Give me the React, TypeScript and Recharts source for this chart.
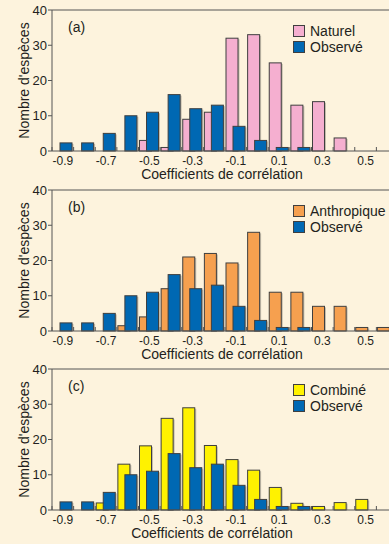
import React from "react";
import { BarChart, Bar, XAxis, YAxis, Legend, ReferenceLine } from "recharts";

const BG = "#fdf3dd";
const AXIS = "#555555";
const EDGE = "#3f3f3f";
const TEXT = "#231f20";
const BLUE = "#0068b3";
const PINK = "#f5afd0";
const ORANGE = "#f6a04f";
const YELLOW = "#fff200";
const FONT = "'Liberation Sans', Arial, sans-serif";

// classes de coefficients de corrélation
const bins = ["-0.9", "-0.8", "-0.7", "-0.6", "-0.5", "-0.4", "-0.3", "-0.2", "-0.1", "0", "0.1", "0.2", "0.3", "0.4", "0.5", "0.6"];
const observe = [2.3, 2.3, 5, 10, 11, 16, 12, 13, 7, 3, 1, 1, 0, 0, 0, 0];
const naturel = [0, 0, 0, 0, 3, 1, 9, 11, 32, 33, 25, 13, 14, 3.7, 0, 0];
const anthropique = [0, 0, 0, 1.5, 4, 12, 21, 22, 19.3, 28, 11, 11, 7, 7, 1, 1];
const combine = [0, 0, 2, 13, 18.2, 26, 29, 18.3, 14.3, 11.3, 6.4, 1.9, 1, 2.1, 3, 0];
const yTicks = [0, 10, 20, 30, 40];

const CHART_W = 398;
const LEFT = 52;
const BAND = (CHART_W - LEFT) / bins.length;

function BinTick(props: any) {
  const { x, y, payload, index } = props;
  const bx = x - BAND / 2;
  return (
    <g>
      <line x1={bx} x2={bx} y1={y} y2={y - 4} stroke={AXIS} />
      {index % 2 === 0 && (
        <text x={x} y={y + 14} textAnchor="middle" fontSize={12} fill={TEXT} fontFamily={FONT}>
          {payload.value}
        </text>
      )}
    </g>
  );
}

function ShadowBar(props: any) {
  const { x, y, width, height, fill } = props;
  if (!height || height <= 0) return null;
  return (
    <g>
      <rect x={x + 1.5} y={y + 1} width={width} height={Math.max(height - 1, 0)} fill="#000" opacity={0.22} />
      <rect x={x} y={y} width={width} height={height} fill={fill} stroke={EDGE} strokeWidth={1} />
    </g>
  );
}

function LegendBox(props: any) {
  const { payload } = props;
  return (
    <div style={{ fontFamily: FONT, fontSize: 14, color: TEXT }}>
      {(payload || []).map((p: any) => (
        <div key={p.value} style={{ display: "flex", alignItems: "center", height: 16, whiteSpace: "nowrap" }}>
          <span
            style={{
              display: "inline-block",
              width: 10,
              height: 10,
              background: p.color,
              border: `1px solid ${EDGE}`,
              marginRight: 5,
            }}
          />
          {p.value}
        </div>
      ))}
    </div>
  );
}

function Panel({ top, height, tag, name, color, values, labelDx }: any) {
  const data = bins.map((b, i) => ({ bin: b, modele: values[i], observe: observe[i] }));
  return (
    <div style={{ position: "absolute", left: 0, top, width: CHART_W, height }}>
      <BarChart
        width={CHART_W}
        height={height}
        data={data}
        margin={{ top: 10, right: 0, left: 0, bottom: 0 }}
        barSize={12}
        barGap={-5}
      >
        <XAxis
          dataKey="bin"
          height={height - 151}
          interval={0}
          tickLine={false}
          tickSize={0}
          tickMargin={0}
          tick={<BinTick />}
          stroke={AXIS}
          label={{
            value: "Coefficients de corrélation",
            position: "insideBottom",
            offset: height - 179,
            dx: labelDx,
            fontSize: 14,
            fill: TEXT,
            fontFamily: FONT,
          }}
        />
        <YAxis
          width={LEFT}
          domain={[0, 40]}
          ticks={yTicks}
          interval={0}
          tickSize={4}
          tickMargin={1}
          stroke={AXIS}
          tick={{ fontSize: 13, fill: TEXT, fontFamily: FONT }}
          label={{
            value: "Nombre d'espèces",
            angle: -90,
            position: "insideLeft",
            dx: 19,
            fontSize: 14,
            fill: TEXT,
            fontFamily: FONT,
            style: { textAnchor: "middle" },
          }}
        />
        <ReferenceLine y={40} stroke={AXIS} />
        <Bar dataKey="modele" name={name} fill={color} shape={<ShadowBar />} isAnimationActive={false} />
        <Bar dataKey="observe" name="Observé" fill={BLUE} shape={<ShadowBar />} isAnimationActive={false} />
        <Legend
          layout="vertical"
          align="center"
          verticalAlign="middle"
          content={<LegendBox />}
          wrapperStyle={{ left: 293, top: 23, width: "auto" }}
        />
      </BarChart>
      <div style={{ position: "absolute", left: 68, top: 19, fontFamily: FONT, fontSize: 14, color: TEXT }}>{tag}</div>
    </div>
  );
}

export default function App() {
  return (
    <div style={{ position: "absolute", left: 0, top: 0, width: 389, height: 544, overflow: "hidden", background: BG }}>
      <Panel top={0} height={190} tag="(a)" name="Naturel" color={PINK} values={naturel} labelDx={-3} />
      <Panel top={180} height={190} tag="(b)" name="Anthropique" color={ORANGE} values={anthropique} labelDx={-3} />
      <Panel top={359} height={185} tag="(c)" name="Combiné" color={YELLOW} values={combine} labelDx={-13} />
    </div>
  );
}
